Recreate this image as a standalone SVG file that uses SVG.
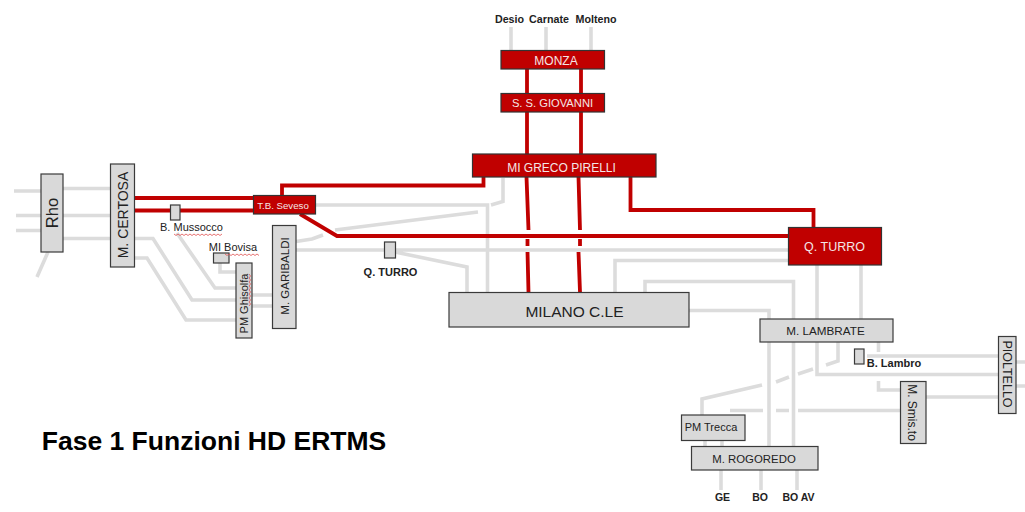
<svg xmlns="http://www.w3.org/2000/svg" width="1025" height="512" viewBox="0 0 1025 512">
<style>
text{font-family:"Liberation Sans",Arial,sans-serif;text-anchor:middle;fill:#222}
.g{fill:none;stroke:#dcdcdc;stroke-width:3.600;stroke-linejoin:miter}
.r{fill:none;stroke:#c00000;stroke-width:3.800;stroke-linejoin:miter}
.gb{fill:#d9d9d9;stroke:#3a3a3a;stroke-width:1.200}
.rb{fill:#c00000;stroke:#333;stroke-width:1.200}
.w{fill:#f4e6e6}
.b{font-weight:bold}
.sp{fill:none;stroke:#e05050;stroke-width:.8}
</style>
<rect width="1025" height="512" fill="#fff"/>
<g id="connectors">
<g class="gl">
<path class="g" d="M14 191H41M63 188.500H110M16 215.500H110M16 230.500H41M63 238.500H110M48 252L37 277"/>
<path class="g" d="M134 238.500H153L192 300H236M252 295H272M134 258H147L186 320H236M252 306H272M177 233L215 288H236M220 263V272H236"/>
<path class="g" d="M296 241.500L312 239L323 235M335 230L478 212M315 205H487.500V292M503 178V201.500L491 205M296 250H789M395 252L467 267V292"/>
<path class="g" d="M511 27V50M546 27V50M591 27V50"/>
<path class="g" d="M615 292V260.500H789M645 292V281.500H793.500V446M689 310.500H769V446M817 265V374.500H998M861 265V319M867 356H998M1016 362H1025M1016 386H1025M838 342V361L826 365M813 369L798 374M789 377L776 382M762 385L702 399V415M705 441V446M722 441V446"/>
<path class="g" d="M878.500 342V352M878.500 381V390H900M926 397H998M730 410.500H763M776 410.500H789M798 410.500H900M721 470V490M761 470V490M797 470V490"/>
</g>
<g class="rl">
<path class="r" d="M134 198H253M134 210.500H253M282 195V185.500H483.500V177M300 214L337 236H789"/>
<path class="r" d="M527 69V93M527 112V154M581 69V93M581 112V154M526.500 177L528.500 230M527.500 239V246M527.500 252L528.500 292M578.500 177L580 230M580 239V246M578.500 252L580 292M630.500 177V210H813.500V227"/>
</g>
</g>
<g id="rho"><rect class="gb" x="41" y="174" width="22" height="78"/><text transform="translate(58,213) rotate(-90)" font-size="16.500">Rho</text></g>
<g id="certosa"><rect class="gb" x="110.500" y="164" width="24" height="103"/><text transform="translate(128,215) rotate(-90)" font-size="14">M. CERTOSA</text></g>
<g id="seveso"><rect class="rb" x="253.500" y="195.500" width="62" height="18.500"/><text class="w" x="283" y="209" font-size="9.700">T.B. Seveso</text></g>
<g id="mussocco"><rect class="gb" x="170.500" y="205" width="9.500" height="15"/><text x="191.500" y="231" font-size="11">B. Mussocco</text><path class="sp" d="M174 234l2 1.500 2-1.500 2 1.500 2-1.500 2 1.500 2-1.500 2 1.500 2-1.500 2 1.500 2-1.500 2 1.500 2-1.500 2 1.500 2-1.500 2 1.500 2-1.500 2 1.500 2-1.500 2 1.500 2-1.500 2 1.500 2-1.500 2 1.500 2-1.500"/></g>
<g id="bovisa"><rect class="gb" x="213.500" y="253" width="15.500" height="10"/><text x="233" y="251" font-size="11">MI Bovisa</text><path class="sp" d="M225 254l2 1.500 2-1.500 2 1.500 2-1.500 2 1.500 2-1.500 2 1.500 2-1.500 2 1.500 2-1.500 2 1.500 2-1.500 2 1.500 2-1.500 2 1.500 2-1.500 2 1.500"/></g>
<g id="ghisolfa"><rect class="gb" x="236" y="263" width="16" height="75"/><text transform="translate(247.500,303.500) rotate(-90)" font-size="11">PM Ghisolfa</text><path class="sp" d="M249 274l1.500 2-1.500 2 1.500 2-1.500 2 1.500 2-1.500 2 1.500 2-1.500 2 1.500 2-1.500 2 1.500 2-1.500 2 1.500 2-1.500 2 1.500 2-1.500 2"/></g>
<g id="garibaldi"><rect class="gb" x="272.500" y="225.500" width="23.500" height="103"/><text transform="translate(288.500,276) rotate(-90)" font-size="11.500">M. GARIBALDI</text></g>
<g id="qturro-small"><rect class="gb" x="384.500" y="242" width="11" height="16"/><text class="b" x="390.500" y="276" font-size="11">Q. TURRO</text></g>
<g id="monza"><rect class="rb" x="501" y="50.500" width="103.500" height="18.500"/><text class="w" x="556" y="65" font-size="12">MONZA</text></g>
<g id="giovanni"><rect class="rb" x="501" y="93.500" width="103.500" height="18.500"/><text class="w" x="552.500" y="107" font-size="11.200">S. S. GIOVANNI</text></g>
<g id="greco"><rect class="rb" x="472.500" y="154" width="183.500" height="23"/><text class="w" x="561.500" y="172" font-size="12">MI GRECO PIRELLI</text></g>
<g id="milano"><rect class="gb" x="449" y="292.500" width="240" height="34.500"/><text x="574.500" y="317" font-size="15.500">MILANO C.LE</text></g>
<g id="qturro"><rect class="rb" x="788.500" y="227.500" width="93" height="37.500"/><text class="w" x="834.500" y="251" font-size="12.500">Q. TURRO</text></g>
<g id="lambrate"><rect class="gb" x="760" y="319" width="133" height="23"/><text x="825.500" y="335" font-size="11.700">M. LAMBRATE</text></g>
<g id="blambro"><rect class="gb" x="854.500" y="349" width="9.500" height="15"/><text class="b" x="894" y="367" font-size="11">B. Lambro</text></g>
<g id="smista"><rect class="gb" x="900.500" y="381.500" width="25.500" height="62"/><text transform="translate(908,412.500) rotate(90)" font-size="12">M. Smis.to</text></g>
<g id="pioltello"><rect class="gb" x="998.500" y="336.500" width="17.500" height="77"/><text transform="translate(1002.500,374) rotate(90)" font-size="12.500">PIOLTELLO</text></g>
<g id="trecca"><rect class="gb" x="681.500" y="415" width="63.500" height="25.500"/><text x="711" y="431" font-size="11">PM Trecca</text></g>
<g id="rogoredo"><rect class="gb" x="691.500" y="446.500" width="126.500" height="23.500"/><text x="754" y="463" font-size="11.400">M. ROGOREDO</text></g>
<g id="labels">
<text class="b" x="509.500" y="23" font-size="10.700">Desio</text>
<text class="b" x="549" y="23" font-size="10.700">Carnate</text>
<text class="b" x="596" y="23" font-size="10.700">Molteno</text>
<text class="b" x="722.500" y="501" font-size="10.500">GE</text>
<text class="b" x="760" y="501" font-size="10.500">BO</text>
<text class="b" x="798.500" y="501" font-size="10.500">BO AV</text>
<text class="b" x="214" y="450" font-size="26.500" style="fill:#000">Fase 1 Funzioni HD ERTMS</text>
</g>
</svg>
